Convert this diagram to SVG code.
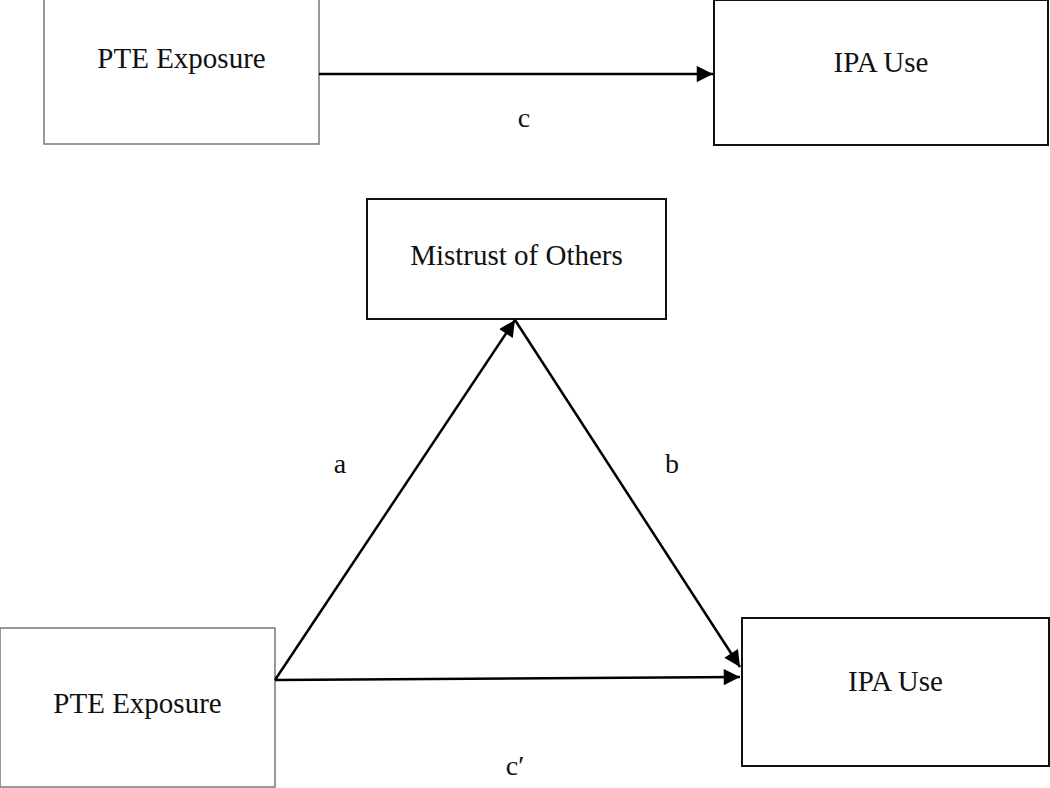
<svg xmlns="http://www.w3.org/2000/svg" width="1050" height="788" viewBox="0 0 1050 788">
<style>
.box{fill:#fff;stroke:#111;stroke-width:2}
.thin{fill:#fff;stroke:#777;stroke-width:1.5}
.t{font-family:"Liberation Serif","Times New Roman",serif;font-size:29px;fill:#111;text-anchor:middle}
.lbl{font-family:"Liberation Serif","Times New Roman",serif;font-size:28px;fill:#111;text-anchor:middle}
.edge{stroke:#000;stroke-width:2.5;fill:none;marker-end:url(#ah)}
</style>
<defs>
<marker id="ah" viewBox="0 0 10 10" refX="10" refY="5" markerWidth="7" markerHeight="6.5" markerUnits="strokeWidth" orient="auto">
<path d="M0,0 L10,5 L0,10 z" fill="#000"/>
</marker>
</defs>
<rect width="1050" height="788" fill="#fff"/>
<g id="pte1"><rect class="thin" x="44" y="-1" width="275" height="145"/><text class="t" x="181.5" y="68">PTE Exposure</text></g>
<g id="ipa1"><rect class="box" x="714" y="0" width="334" height="145"/><text class="t" x="881" y="72">IPA Use</text></g>
<g id="mistrust"><rect class="box" x="367" y="199" width="299" height="120"/><text class="t" x="516.5" y="265">Mistrust of Others</text></g>
<g id="pte2"><rect class="thin" x="0" y="628" width="275" height="159"/><text class="t" x="137.5" y="713">PTE Exposure</text></g>
<g id="ipa2"><rect class="box" x="742" y="618" width="307" height="148"/><text class="t" x="895.5" y="691">IPA Use</text></g>
<g id="connectors">
<line class="edge" x1="319" y1="74" x2="713" y2="74"/>
<line class="edge" x1="275" y1="680" x2="515" y2="320"/>
<line class="edge" x1="515" y1="320" x2="740" y2="667"/>
<line class="edge" x1="275" y1="680" x2="740" y2="677"/>
</g>
<g id="labels">
<text class="lbl" x="524" y="127">c</text>
<text class="lbl" x="340" y="473">a</text>
<text class="lbl" x="672" y="473">b</text>
<text class="lbl" x="515" y="775">c′</text>
</g>
</svg>
